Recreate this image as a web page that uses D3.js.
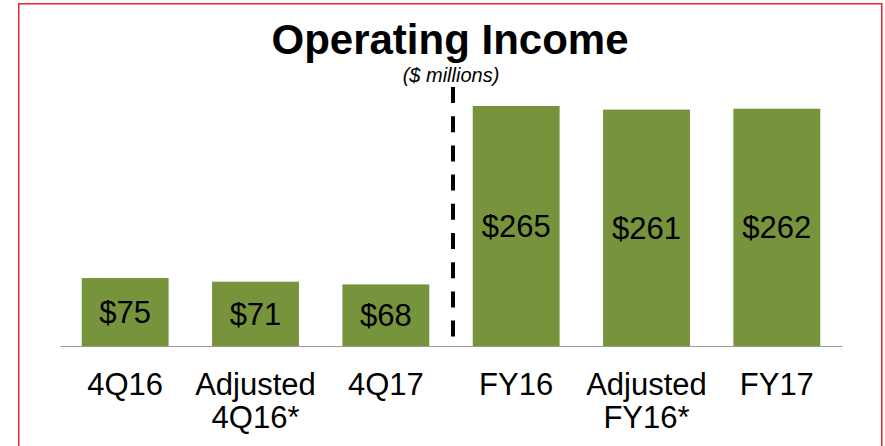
<!DOCTYPE html>
<html>
<head>
<meta charset="utf-8">
<script src="https://cdn.jsdelivr.net/npm/d3@7"></script>
<style>
  html, body { margin: 0; padding: 0; background: #fff; }
  svg { display: block; font-family: "Liberation Sans", Arial, sans-serif; }
</style>
</head>
<body>
<svg id="chart" width="885" height="446"></svg>
<script>
const categories = ["4Q16", "Adjusted\n4Q16*", "4Q17", "FY16", "Adjusted\nFY16*", "FY17"];
const values = [75, 71, 68, 265, 261, 262];
const valueLabels = ["$75", "$71", "$68", "$265", "$261", "$262"];
const title = "Operating Income";
const subtitle = "($ millions)";

const svg = d3.select("#chart");
const W = 885, H = 446;

// frame
svg.append("rect")
  .attr("x", 18.75).attr("y", 3.75)
  .attr("width", 863).attr("height", 470)
  .attr("fill", "none")
  .attr("stroke", "#df2a2a")
  .attr("stroke-width", 1.5);

const baseY = 346;
const x = d3.scaleBand()
  .domain(categories)
  .range([60, 842])
  .paddingInner(1/3)
  .paddingOuter(1/6);

const y = d3.scaleLinear()
  .domain([0, 265])
  .range([baseY, 106]);

// bars
svg.append("g").selectAll("rect")
  .data(values)
  .join("rect")
  .attr("x", (d, i) => x(categories[i]))
  .attr("y", d => y(d))
  .attr("width", x.bandwidth())
  .attr("height", d => y(0) - y(d))
  .attr("fill", "#77933c");

// baseline axis
const axis = d3.axisBottom(x).tickSize(0).tickFormat("");
const gAxis = svg.append("g").attr("transform", `translate(0,${baseY})`).call(axis);
gAxis.select(".domain").attr("stroke", "#9a9a9a").attr("stroke-width", 1.2);

// category labels
const labels = svg.append("g").selectAll("text")
  .data(categories)
  .join("text")
  .attr("x", d => x(d) + x.bandwidth() / 2)
  .attr("y", 395)
  .attr("text-anchor", "middle")
  .attr("font-size", 31)
  .attr("fill", "#000");
labels.each(function(d) {
  const lines = d.split("\n");
  const t = d3.select(this);
  lines.forEach((ln, k) => {
    t.append("tspan")
      .attr("x", x(d) + x.bandwidth() / 2)
      .attr("dy", k === 0 ? 0 : 33)
      .text(ln);
  });
});

// value labels centered in bars
svg.append("g").selectAll("text")
  .data(values)
  .join("text")
  .attr("x", (d, i) => x(categories[i]) + x.bandwidth() / 2)
  .attr("y", d => (y(d) + y(0)) / 2 + 11)
  .attr("text-anchor", "middle")
  .attr("font-size", 31)
  .attr("fill", "#000")
  .text((d, i) => valueLabels[i]);

// dashed separator
svg.append("line")
  .attr("x1", 453).attr("x2", 453)
  .attr("y1", 87).attr("y2", 337)
  .attr("stroke", "#000")
  .attr("stroke-width", 4)
  .attr("stroke-dasharray", "16 13.2");

// title
svg.append("text")
  .attr("x", 450).attr("y", 54)
  .attr("text-anchor", "middle")
  .attr("font-size", 42)
  .attr("font-weight", "bold")
  .attr("fill", "#000")
  .text(title);

svg.append("text")
  .attr("x", 451).attr("y", 82)
  .attr("text-anchor", "middle")
  .attr("font-size", 20)
  .attr("font-style", "italic")
  .attr("fill", "#000")
  .text(subtitle);
</script>
</body>
</html>
